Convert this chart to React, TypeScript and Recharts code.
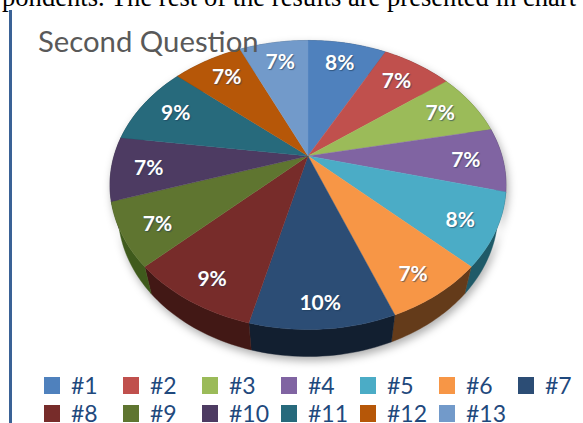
import React from "react";
import { PieChart, Pie, Legend } from "recharts";

const categories = ["#1", "#2", "#3", "#4", "#5", "#6", "#7", "#8", "#9", "#10", "#11", "#12", "#13"];
const values = [8, 7, 7, 7, 8, 7, 10, 9, 7, 7, 9, 7, 7];
const colors = ["#4F81BD", "#C0504D", "#9BBB59", "#8064A2", "#4BACC6", "#F79646", "#2C4D75", "#772C2A", "#5F7530", "#4D3B62", "#276A7C", "#B65708", "#729ACA"];
const wallColors = ["#2a4668", "#6b2b2a", "#566a32", "#47385a", "#1f5a68", "#643b1a", "#121f30", "#421815", "#3f5a1c", "#2d2339", "#163c47", "#6a3305", "#3f5a7a"];

const data = categories.map((name, i) => ({ name, value: values[i], fill: colors[i], wall: wallColors[i] }));

const RY_RATIO = 0.73;
const CENTER_SHIFT = 29;
const DEPTH = 56;
const BOTTOM_RX = 0.96;

// The picture is a tilted pie seen in perspective: turn a library angle into its on-screen angle.
const view = (angle: number) => {
  const t = ((90 - angle) * Math.PI) / 180;
  return t - ((12 * Math.PI) / 180) * Math.sin(t);
};
const rim = (cx: number, cy: number, r: number, t: number, scale = 1, shift = CENTER_SHIFT) => [
  cx + r * scale * Math.sin(t),
  cy + shift - r * RY_RATIO * Math.cos(t),
];
const arcPoints = (cx: number, cy: number, r: number, a: number, b: number, scale: number, shift: number) => {
  const pts: number[][] = [];
  const n = 24;
  for (let i = 0; i <= n; i++) pts.push(rim(cx, cy, r, view(a + ((b - a) * i) / n), scale, shift));
  return pts;
};
const toPath = (pts: number[][]) => pts.map((p, i) => `${i ? "L" : "M"}${p[0].toFixed(2)} ${p[1].toFixed(2)}`).join(" ");

const TopSlice = (p: any) => {
  const pts = arcPoints(p.cx, p.cy, p.outerRadius, p.startAngle, p.endAngle, 1, CENTER_SHIFT);
  return <path d={`M${p.cx} ${p.cy} ${toPath(pts).replace("M", "L")} Z`} fill={p.fill} stroke={p.fill} strokeWidth={0.4} />;
};

const WallSlice = (p: any) => {
  const top = arcPoints(p.cx, p.cy, p.outerRadius, p.startAngle, p.endAngle, 1, CENTER_SHIFT);
  const bottom = arcPoints(p.cx, p.cy, p.outerRadius, p.startAngle, p.endAngle, BOTTOM_RX, DEPTH).reverse();
  return <path d={`${toPath(top)} ${toPath(bottom).replace("M", "L")} Z`} fill={p.wall} stroke={p.wall} strokeWidth={0.4} />;
};

const renderLabel = (p: any) => {
  const [x, y] = rim(p.cx, p.cy, p.outerRadius, view(p.midAngle));
  const lx = p.cx + (x - p.cx) * 0.81;
  const ly = p.cy + (y - p.cy) * 0.84;
  return (
    <text x={lx} y={ly} textAnchor="middle" dominantBaseline="central" fill="#ffffff" fontFamily="Lato" fontWeight={700} fontSize={21} style={{ textShadow: "1px 1px 1px rgba(30,60,90,0.6)" }}>
      {`${p.value}%`}
    </text>
  );
};

const LegendRows = ({ payload }: any) => {
  const seen = new Set<string>();
  const items = (payload || []).filter((e: any) => {
    if (seen.has(e.value)) return false;
    seen.add(e.value);
    return true;
  });
  return (
    <div style={{ display: "grid", gridTemplateColumns: "repeat(7, 79px)", gridAutoRows: "28px" }}>
      {items.map((e: any) => (
        <div key={e.value} style={{ display: "flex", alignItems: "center", height: 28 }}>
          <span style={{ width: 16, height: 17, background: e.color, display: "inline-block" }} />
          <span style={{ marginLeft: 11, fontFamily: "Lato", fontSize: 23, lineHeight: "28px", color: "#1F497D", whiteSpace: "nowrap" }}>{e.value}</span>
        </div>
      ))}
    </div>
  );
};

export default function App() {
  return (
    <div style={{ position: "absolute", left: 0, top: 0, width: 583, height: 423, overflow: "hidden", background: "#fff" }}>
      <style>{`.pie-wall{filter:drop-shadow(2px 4px 4px rgba(0,0,0,.32))}`}</style>
      <div style={{ position: "absolute", left: 2, top: -18, fontFamily: "Liberation Serif", fontSize: 26.6, color: "#000", whiteSpace: "nowrap" }}>
        pondents. The rest of the results are presented in chart
      </div>
      <div style={{ position: "absolute", left: 9, top: 10, width: 3, height: 413, background: "#3A6296" }} />
      <div style={{ position: "absolute", left: 0, top: 0 }}>
        <PieChart width={583} height={423} margin={{ top: 0, right: 0, bottom: 0, left: 0 }}>
          <Pie className="pie-wall" data={data} dataKey="value" nameKey="name" cx={308} cy={156} outerRadius={198} startAngle={90} endAngle={-270} stroke="none" legendType="none" shape={WallSlice} isAnimationActive={false} />
          <Pie data={data} dataKey="value" nameKey="name" cx={308} cy={156} outerRadius={198} startAngle={90} endAngle={-270} stroke="none" shape={TopSlice} label={renderLabel} labelLine={false} isAnimationActive={false} />
          <Legend content={LegendRows} itemSorter={null} wrapperStyle={{ position: "absolute", left: 44, top: 371, width: 560, bottom: "auto" }} />
        </PieChart>
      </div>
      <div style={{ position: "absolute", left: 38, top: 23, fontFamily: "Lato", fontSize: 29.3, color: "#595959", whiteSpace: "nowrap" }}>Second Question</div>
    </div>
  );
}
